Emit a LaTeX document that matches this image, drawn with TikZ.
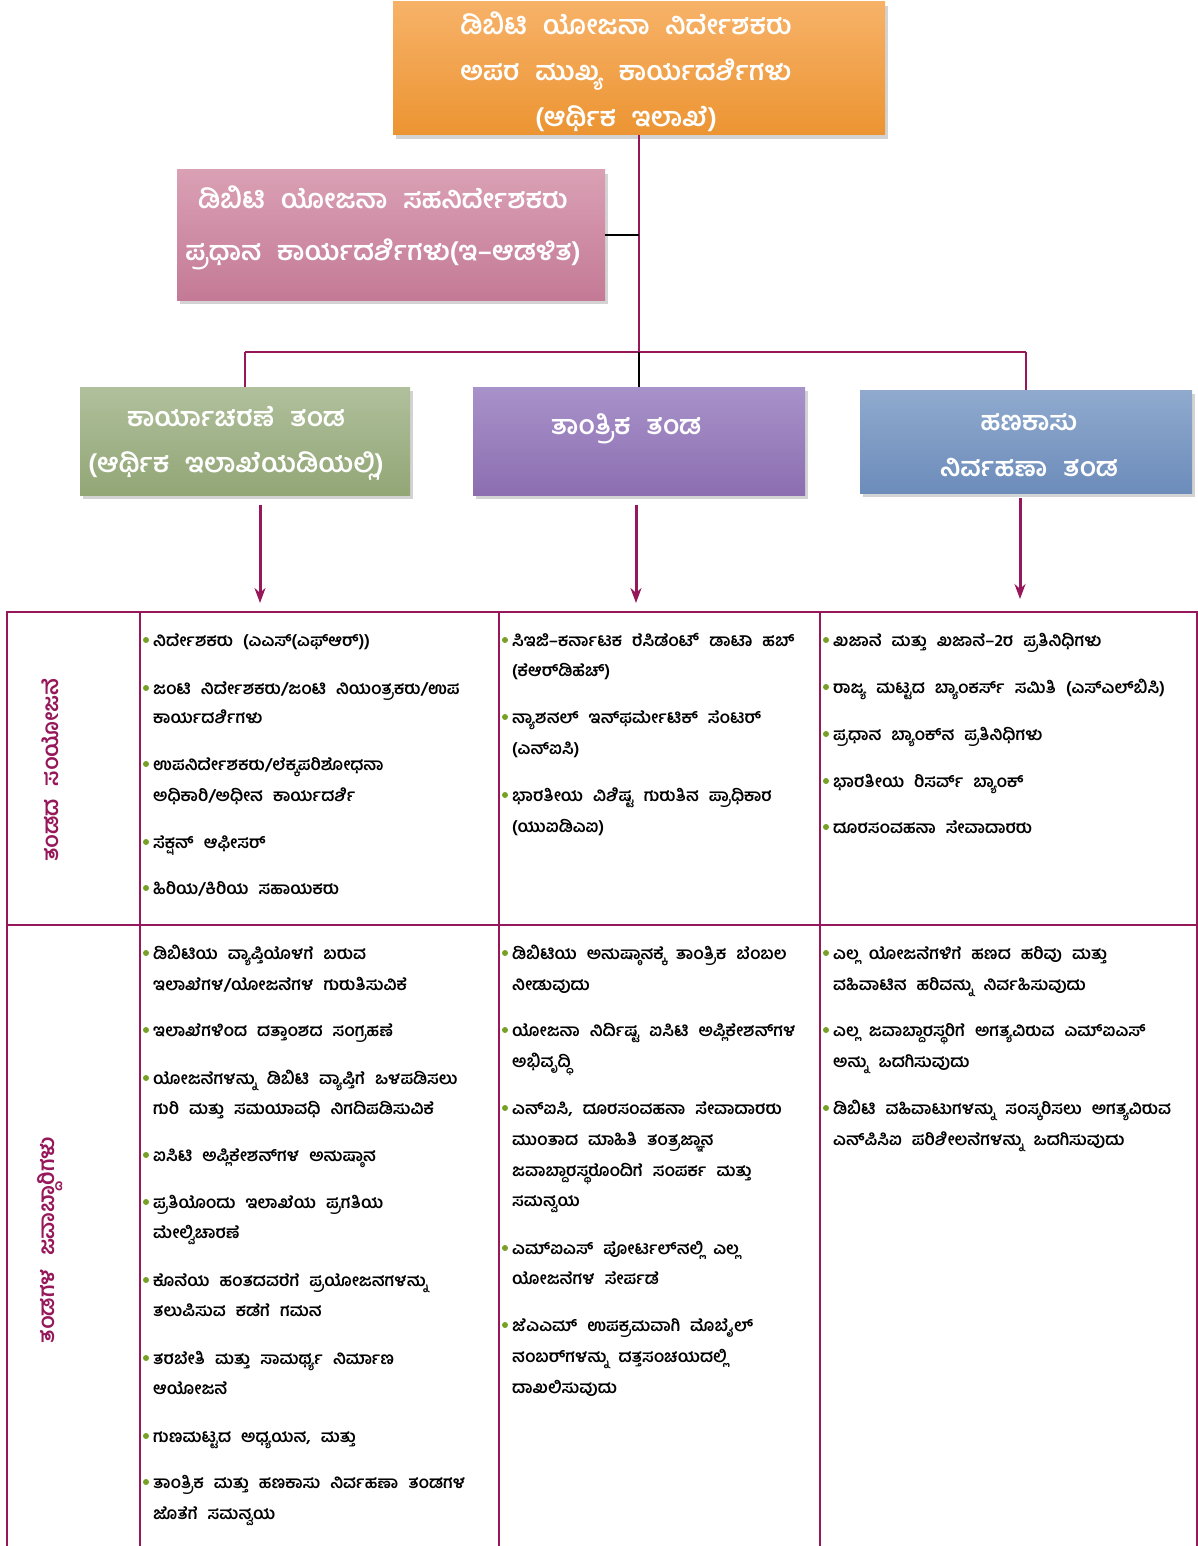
\documentclass[tikz,border=0pt]{standalone}
\usepackage{fontspec}
\usetikzlibrary{shadows,arrows.meta}
\newfontfamily\kn[Script=Kannada,WordSpace=2.1]{Hind Mysuru}
\newfontfamily\knb[Script=Kannada,WordSpace=2.4]{Hind Mysuru}
\definecolor{lnc}{RGB}{150,24,90}
\definecolor{bulc}{RGB}{118,160,38}
\definecolor{orT}{RGB}{247,178,104}
\definecolor{orB}{RGB}{236,148,50}
\definecolor{pkT}{RGB}{218,160,180}
\definecolor{pkB}{RGB}{196,122,150}
\definecolor{grT}{RGB}{176,192,156}
\definecolor{grB}{RGB}{146,166,118}
\definecolor{puT}{RGB}{168,146,202}
\definecolor{puB}{RGB}{140,110,176}
\definecolor{blT}{RGB}{144,170,206}
\definecolor{blB}{RGB}{108,140,186}
\newcommand\kt[4]{\node[tx] (#1) at (#2,#3+6) {#4};}
\newcommand\kb[4]{\fill[bulc] (#2-7,#3) circle (3pt); \node[tx] (#1) at (#2,#3+6) {#4};}
\begin{document}
\begin{tikzpicture}[x=1pt,y=-1pt,
  box/.style={rectangle, inner sep=0pt,
    drop shadow={shadow xshift=3pt,shadow yshift=-4pt,opacity=0.35}},
  boxtx/.style={inner sep=0pt, align=center, text=white,
    font=\knb\bfseries\fontsize{26.5}{46}\selectfont},
  tx/.style={anchor=base west, inner sep=0pt, font=\kn\bfseries\fontsize{16.8}{18}\selectfont},
  vlab/.style={rotate=90, text=lnc, inner sep=0pt, font=\kn\bfseries\fontsize{22}{24}\selectfont},
  conn/.style={draw=lnc, line width=2.5pt},
  bconn/.style={draw=black, line width=2.5pt},
  arr/.style={draw=lnc, line width=3pt, -{Stealth[length=15pt,width=11pt]}},
  grid/.style={draw=lnc, line width=2pt}]
\useasboundingbox (0,0) rectangle (1198,1546);

% boxes
\node[box, top color=orT, bottom color=orB, minimum width=492pt, minimum height=133pt] (top) at (639,68.5) {};
\node[boxtx] (toptx) at (626,71.5)
  {ಡಿಬಿಟಿ ಯೋಜನಾ ನಿರ್ದೇಶಕರು\\ಅಪರ ಮುಖ್ಯ ಕಾರ್ಯದರ್ಶಿಗಳು\\(ಆರ್ಥಿಕ ಇಲಾಖೆ)};
\node[box, top color=pkT, bottom color=pkB, minimum width=428pt, minimum height=130pt] (pink) at (391,235) {};
\node[boxtx, font=\knb\bfseries\fontsize{26.5}{52}\selectfont] (pinktx) at (383,228)
  {ಡಿಬಿಟಿ ಯೋಜನಾ ಸಹನಿರ್ದೇಶಕರು\\ಪ್ರಧಾನ ಕಾರ್ಯದರ್ಶಿಗಳು(ಇ–ಆಡಳಿತ)};
\node[box, top color=grT, bottom color=grB, minimum width=330pt, minimum height=108pt] (green) at (245,441) {};
\node[boxtx] (greentx) at (236,443)
  {ಕಾರ್ಯಾಚರಣೆ ತಂಡ\\(ಆರ್ಥಿಕ ಇಲಾಖೆಯಡಿಯಲ್ಲಿ)};
\node[box, top color=puT, bottom color=puB, minimum width=332pt, minimum height=108pt] (purple) at (639,441) {};
\node[boxtx, anchor=base] (purpletx) at (626,434) {ತಾಂತ್ರಿಕ ತಂಡ};
\node[box, top color=blT, bottom color=blB, minimum width=332pt, minimum height=103pt] (blue) at (1026,441.5) {};
\node[boxtx] (bluetx) at (1029,445.5)
  {ಹಣಕಾಸು\\ನಿರ್ವಹಣಾ ತಂಡ};

% connectors
\coordinate (jc) at (639,352);
\coordinate (jl) at (245,352);
\coordinate (jr) at (1026,352);
\draw[conn] (top.south) -- (jc);
\draw[bconn] (pink.east) -- (pink.east -| top.south);
\draw[conn] (jl) -- (jr);
\draw[conn] (jl) -- (green.north);
\draw[conn] (jr) -- (blue.north);
\draw[bconn] (jc) -- (purple.north);

\coordinate (a1) at (260,505); \coordinate (t1) at (260,603);
\coordinate (a2) at (636,505); \coordinate (t2) at (636,603);
\coordinate (a3) at (1020,498); \coordinate (t3) at (1020,599);
\draw[arr] (a1) -- (t1);
\draw[arr] (a2) -- (t2);
\draw[arr] (a3) -- (t3);

% table grid
\draw[grid] (7,1550) -- (7,612) -- (1197,612) -- (1197,1550);
\draw[grid] (7,925) -- (1197,925);
\draw[grid] (140,612) -- (140,1550);
\draw[grid] (499,612) -- (499,1550);
\draw[grid] (820,612) -- (820,1550);

% row labels
\node[vlab] (lab1) at (50,770) {ತಂಡದ ಸಂಯೋಜನೆ};
\node[vlab] (lab2) at (50,1240) {ತಂಡಗಳ ಜವಾಬ್ದಾರಿಗಳು};

% composition column 1
\kb{c1a}{153}{640}{ನಿರ್ದೇಶಕರು (ಎಎಸ್(ಎಫ್ಆರ್))}
\kb{c1b}{153}{688}{ಜಂಟಿ ನಿರ್ದೇಶಕರು/ಜಂಟಿ ನಿಯಂತ್ರಕರು/ಉಪ}
\kt{c1c}{153}{717}{ಕಾರ್ಯದರ್ಶಿಗಳು}
\kb{c1d}{153}{764}{ಉಪನಿರ್ದೇಶಕರು/ಲೆಕ್ಕಪರಿಶೋಧನಾ}
\kt{c1e}{153}{795}{ಅಧಿಕಾರಿ/ಅಧೀನ ಕಾರ್ಯದರ್ಶಿ}
\kb{c1f}{153}{842}{ಸೆಕ್ಷನ್ ಆಫೀಸರ್}
\kb{c1g}{153}{888}{ಹಿರಿಯ/ಕಿರಿಯ ಸಹಾಯಕರು}

% composition column 2
\kb{c2a}{512}{640}{ಸಿಇಜಿ–ಕರ್ನಾಟಕ ರೆಸಿಡೆಂಟ್ ಡಾಟಾ ಹಬ್}
\kt{c2b}{512}{670}{(ಕೆಆರ್‌ಡಿಹೆಚ್)}
\kb{c2c}{512}{717}{ನ್ಯಾಶನಲ್ ಇನ್‌ಫರ್ಮೇಟಿಕ್ ಸೆಂಟರ್}
\kt{c2d}{512}{748}{(ಎನ್‌ಐಸಿ)}
\kb{c2e}{512}{795}{ಭಾರತೀಯ ವಿಶಿಷ್ಟ ಗುರುತಿನ ಪ್ರಾಧಿಕಾರ}
\kt{c2f}{512}{826}{(ಯುಐಡಿಎಐ)}

% composition column 3
\kb{c3a}{833}{640}{ಖಜಾನೆ ಮತ್ತು ಖಜಾನೆ–2ರ ಪ್ರತಿನಿಧಿಗಳು}
\kb{c3b}{833}{687}{ರಾಜ್ಯ ಮಟ್ಟದ ಬ್ಯಾಂಕರ್ಸ್ ಸಮಿತಿ (ಎಸ್‌ಎಲ್‌ಬಿಸಿ)}
\kb{c3c}{833}{734}{ಪ್ರಧಾನ ಬ್ಯಾಂಕ್‌ನ ಪ್ರತಿನಿಧಿಗಳು}
\kb{c3d}{833}{781}{ಭಾರತೀಯ ರಿಸರ್ವ್ ಬ್ಯಾಂಕ್}
\kb{c3e}{833}{827}{ದೂರಸಂವಹನಾ ಸೇವಾದಾರರು}

% responsibilities column 1
\kb{r1a}{153}{953}{ಡಿಬಿಟಿಯ ವ್ಯಾಪ್ತಿಯೊಳಗೆ ಬರುವ}
\kt{r1b}{153}{984}{ಇಲಾಖೆಗಳ/ಯೋಜನೆಗಳ ಗುರುತಿಸುವಿಕೆ}
\kb{r1c}{153}{1030}{ಇಲಾಖೆಗಳಿಂದ ದತ್ತಾಂಶದ ಸಂಗ್ರಹಣೆ}
\kb{r1d}{153}{1078}{ಯೋಜನೆಗಳನ್ನು ಡಿಬಿಟಿ ವ್ಯಾಪ್ತಿಗೆ ಒಳಪಡಿಸಲು}
\kt{r1e}{153}{1108}{ಗುರಿ ಮತ್ತು ಸಮಯಾವಧಿ ನಿಗದಿಪಡಿಸುವಿಕೆ}
\kb{r1f}{153}{1155}{ಐಸಿಟಿ ಅಪ್ಲಿಕೇಶನ್‌ಗಳ ಅನುಷ್ಠಾನ}
\kb{r1g}{153}{1202}{ಪ್ರತಿಯೊಂದು ಇಲಾಖೆಯ ಪ್ರಗತಿಯ}
\kt{r1h}{153}{1232}{ಮೇಲ್ವಿಚಾರಣೆ}
\kb{r1i}{153}{1280}{ಕೊನೆಯ ಹಂತದವರೆಗೆ ಪ್ರಯೋಜನಗಳನ್ನು}
\kt{r1j}{153}{1310}{ತಲುಪಿಸುವ ಕಡೆಗೆ ಗಮನ}
\kb{r1k}{153}{1358}{ತರಬೇತಿ ಮತ್ತು ಸಾಮರ್ಥ್ಯ ನಿರ್ಮಾಣ}
\kt{r1l}{153}{1388}{ಆಯೋಜನೆ}
\kb{r1m}{153}{1436}{ಗುಣಮಟ್ಟದ ಅಧ್ಯಯನ, ಮತ್ತು}
\kb{r1n}{153}{1482}{ತಾಂತ್ರಿಕ ಮತ್ತು ಹಣಕಾಸು ನಿರ್ವಹಣಾ ತಂಡಗಳ}
\kt{r1o}{153}{1513}{ಜೊತೆಗೆ ಸಮನ್ವಯ}

% responsibilities column 2
\kb{r2a}{512}{953}{ಡಿಬಿಟಿಯ ಅನುಷ್ಠಾನಕ್ಕೆ ತಾಂತ್ರಿಕ ಬೆಂಬಲ}
\kt{r2b}{512}{984}{ನೀಡುವುದು}
\kb{r2c}{512}{1030}{ಯೋಜನಾ ನಿರ್ದಿಷ್ಟ ಐಸಿಟಿ ಅಪ್ಲಿಕೇಶನ್‌ಗಳ}
\kt{r2d}{512}{1061}{ಅಭಿವೃದ್ಧಿ}
\kb{r2e}{512}{1108}{ಎನ್‌ಐಸಿ, ದೂರಸಂವಹನಾ ಸೇವಾದಾರರು}
\kt{r2f}{512}{1139}{ಮುಂತಾದ ಮಾಹಿತಿ ತಂತ್ರಜ್ಞಾನ}
\kt{r2g}{512}{1170}{ಜವಾಬ್ದಾರಸ್ಥರೊಂದಿಗೆ ಸಂಪರ್ಕ ಮತ್ತು}
\kt{r2h}{512}{1200}{ಸಮನ್ವಯ}
\kb{r2i}{512}{1248}{ಎಮ್‌ಐಎಸ್ ಪೋರ್ಟಲ್‌ನಲ್ಲಿ ಎಲ್ಲ}
\kt{r2j}{512}{1278}{ಯೋಜನೆಗಳ ಸೇರ್ಪಡೆ}
\kb{r2k}{512}{1325}{ಜೆಎಎಮ್ ಉಪಕ್ರಮವಾಗಿ ಮೊಬೈಲ್}
\kt{r2l}{512}{1356}{ನಂಬರ್‌ಗಳನ್ನು ದತ್ತಸಂಚಯದಲ್ಲಿ}
\kt{r2m}{512}{1387}{ದಾಖಲಿಸುವುದು}

% responsibilities column 3
\kb{r3a}{833}{953}{ಎಲ್ಲ ಯೋಜನೆಗಳಿಗೆ ಹಣದ ಹರಿವು ಮತ್ತು}
\kt{r3b}{833}{984}{ವಹಿವಾಟಿನ ಹರಿವನ್ನು ನಿರ್ವಹಿಸುವುದು}
\kb{r3c}{833}{1030}{ಎಲ್ಲ ಜವಾಬ್ದಾರಸ್ಥರಿಗೆ ಅಗತ್ಯವಿರುವ ಎಮ್‌ಐಎಸ್}
\kt{r3d}{833}{1061}{ಅನ್ನು ಒದಗಿಸುವುದು}
\kb{r3e}{833}{1108}{ಡಿಬಿಟಿ ವಹಿವಾಟುಗಳನ್ನು ಸಂಸ್ಕರಿಸಲು ಅಗತ್ಯವಿರುವ}
\kt{r3f}{833}{1139}{ಎನ್‌ಪಿಸಿಐ ಪರಿಶೀಲನೆಗಳನ್ನು ಒದಗಿಸುವುದು}
\end{tikzpicture}
\end{document}
